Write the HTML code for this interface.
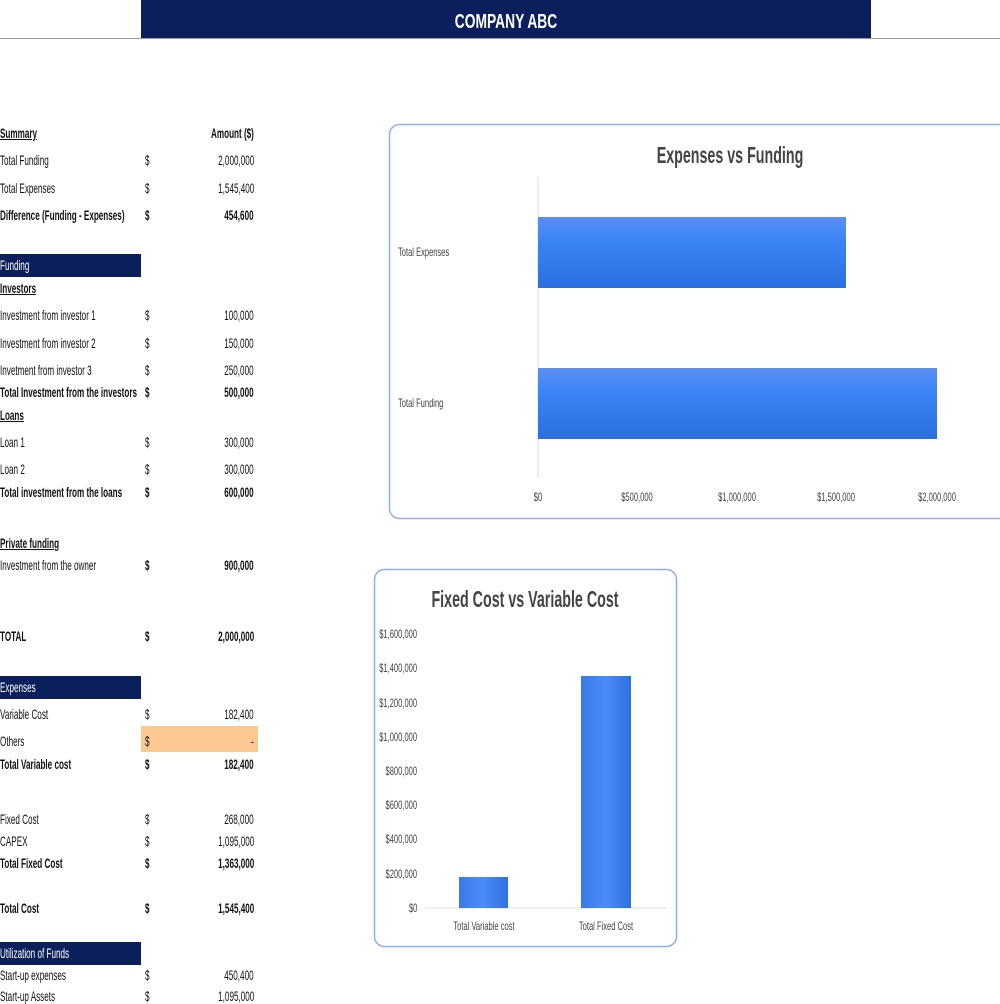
<!DOCTYPE html>
<html><head><meta charset="utf-8"><style>
body{margin:0;width:1000px;height:1000px;position:relative;background:#fff;overflow:hidden;font-family:"Liberation Sans",sans-serif;color:#111}
.a{position:absolute;height:16px;line-height:16px;font-size:14px;white-space:nowrap;transform:scaleX(0.58);transform-origin:left center}
.r{transform-origin:right center;text-align:right}
.c{font-size:12px;transform:scaleX(0.63)}
.b{font-weight:bold}
.u{text-decoration:underline}
.nav{position:absolute;left:0;width:141px;height:23px;background:#0b1f5c}
.w{color:#fff}
.g{color:#444}
</style></head><body>
<div style="position:absolute;left:141px;top:0;width:730px;height:38px;background:#0b1f5c"></div>
<div class="a b w" style="left:0;width:1012px;top:12px;font-size:20px;line-height:20px;height:20px;text-align:center;transform:scaleX(0.69);transform-origin:center">COMPANY ABC</div>
<div style="position:absolute;left:0;top:38px;width:1000px;height:1px;background:#9a9a9a"></div>

<div class="nav" style="top:254px"></div>
<div class="nav" style="top:676px"></div>
<div class="nav" style="top:942px"></div>
<div style="position:absolute;left:141px;top:726px;width:117px;height:26px;background:#fcc993"></div>

<div class="a b u" style="left:0;top:125px">Summary</div>
<div class="a b r" style="right:746px;top:125px">Amount ($)</div>

<div class="a" style="left:0;top:152px">Total Funding</div><div class="a" style="left:145px;top:152px">$</div><div class="a r" style="right:746px;top:152px">2,000,000</div>
<div class="a" style="left:0;top:180px">Total Expenses</div><div class="a" style="left:145px;top:180px">$</div><div class="a r" style="right:746px;top:180px">1,545,400</div>
<div class="a b" style="left:0;top:207px">Difference (Funding - Expenses)</div><div class="a b" style="left:145px;top:207px">$</div><div class="a b r" style="right:746px;top:207px">454,600</div>

<div class="a w" style="left:0;top:257px">Funding</div>
<div class="a b u" style="left:0;top:280px">Investors</div>
<div class="a" style="left:0;top:307px">Investment from investor 1</div><div class="a" style="left:145px;top:307px">$</div><div class="a r" style="right:746px;top:307px">100,000</div>
<div class="a" style="left:0;top:335px">Investment from investor 2</div><div class="a" style="left:145px;top:335px">$</div><div class="a r" style="right:746px;top:335px">150,000</div>
<div class="a" style="left:0;top:362px">Invetment from investor 3</div><div class="a" style="left:145px;top:362px">$</div><div class="a r" style="right:746px;top:362px">250,000</div>
<div class="a b" style="left:0;top:384px">Total Investment from the investors</div><div class="a b" style="left:145px;top:384px">$</div><div class="a b r" style="right:746px;top:384px">500,000</div>
<div class="a b u" style="left:0;top:407px">Loans</div>
<div class="a" style="left:0;top:434px">Loan 1</div><div class="a" style="left:145px;top:434px">$</div><div class="a r" style="right:746px;top:434px">300,000</div>
<div class="a" style="left:0;top:461px">Loan 2</div><div class="a" style="left:145px;top:461px">$</div><div class="a r" style="right:746px;top:461px">300,000</div>
<div class="a b" style="left:0;top:484px">Total investment from the loans</div><div class="a b" style="left:145px;top:484px">$</div><div class="a b r" style="right:746px;top:484px">600,000</div>

<div class="a b u" style="left:0;top:535px">Private funding</div>
<div class="a" style="left:0;top:557px">Investment from the owner</div><div class="a b" style="left:145px;top:557px">$</div><div class="a b r" style="right:746px;top:557px">900,000</div>

<div class="a b" style="left:0;top:628px">TOTAL</div><div class="a b" style="left:145px;top:628px">$</div><div class="a b r" style="right:746px;top:628px">2,000,000</div>

<div class="a w" style="left:0;top:679px">Expenses</div>
<div class="a" style="left:0;top:706px">Variable Cost</div><div class="a" style="left:145px;top:706px">$</div><div class="a r" style="right:746px;top:706px">182,400</div>
<div class="a" style="left:0;top:733px">Others</div><div class="a" style="left:145px;top:733px">$</div><div class="a r" style="right:746px;top:733px">-</div>
<div class="a b" style="left:0;top:756px">Total Variable cost</div><div class="a b" style="left:145px;top:756px">$</div><div class="a b r" style="right:746px;top:756px">182,400</div>

<div class="a" style="left:0;top:811px">Fixed Cost</div><div class="a" style="left:145px;top:811px">$</div><div class="a r" style="right:746px;top:811px">268,000</div>
<div class="a" style="left:0;top:833px">CAPEX</div><div class="a" style="left:145px;top:833px">$</div><div class="a r" style="right:746px;top:833px">1,095,000</div>
<div class="a b" style="left:0;top:855px">Total Fixed Cost</div><div class="a b" style="left:145px;top:855px">$</div><div class="a b r" style="right:746px;top:855px">1,363,000</div>

<div class="a b" style="left:0;top:900px">Total Cost</div><div class="a b" style="left:145px;top:900px">$</div><div class="a b r" style="right:746px;top:900px">1,545,400</div>

<div class="a w" style="left:0;top:945px">Utilization of Funds</div>
<div class="a" style="left:0;top:967px">Start-up expenses</div><div class="a" style="left:145px;top:967px">$</div><div class="a r" style="right:746px;top:967px">450,400</div>
<div class="a" style="left:0;top:988px">Start-up Assets</div><div class="a" style="left:145px;top:988px">$</div><div class="a r" style="right:746px;top:988px">1,095,000</div>

<svg style="position:absolute;left:0;top:0" width="1000" height="1000">
<defs>
<linearGradient id="gv" x1="0" y1="0" x2="0" y2="1"><stop offset="0" stop-color="#5b8ff0"/><stop offset="0.3" stop-color="#3d86f8"/><stop offset="1" stop-color="#2a6fe0"/></linearGradient>
<linearGradient id="gh" x1="0" y1="0" x2="1" y2="0"><stop offset="0" stop-color="#3a7ae8"/><stop offset="0.5" stop-color="#4a8cf8"/><stop offset="1" stop-color="#3070e0"/></linearGradient>
</defs>
<rect x="389.5" y="124.5" width="620" height="394" rx="10" fill="none" stroke="#8fb1e6" stroke-width="1.5"/>
<line x1="538" y1="177" x2="538" y2="478" stroke="#ddd"/>
<rect x="538" y="217" width="308" height="71" fill="url(#gv)"/>
<rect x="538" y="368" width="399" height="71" fill="url(#gv)"/>
<rect x="374.5" y="569.5" width="302" height="377" rx="10" fill="none" stroke="#8fb1e6" stroke-width="1.5"/>
<line x1="425" y1="908" x2="667" y2="908" stroke="#ddd"/>
<rect x="459" y="877" width="49" height="31" fill="url(#gh)"/>
<rect x="581" y="676" width="50" height="232" fill="url(#gh)"/>
</svg>

<div class="a b g" style="left:0;width:1460px;top:142px;font-size:23px;height:26px;line-height:26px;text-align:center;transform:scaleX(0.62);transform-origin:center">Expenses vs Funding</div>
<div class="a g c" style="left:398px;top:244px">Total Expenses</div>
<div class="a g c" style="left:398px;top:395px">Total Funding</div>
<div class="a g c" style="left:488px;width:100px;text-align:center;top:489px;transform-origin:center">$0</div>
<div class="a g c" style="left:587px;width:100px;text-align:center;top:489px;transform-origin:center">$500,000</div>
<div class="a g c" style="left:687px;width:100px;text-align:center;top:489px;transform-origin:center">$1,000,000</div>
<div class="a g c" style="left:786px;width:100px;text-align:center;top:489px;transform-origin:center">$1,500,000</div>
<div class="a g c" style="left:887px;width:100px;text-align:center;top:489px;transform-origin:center">$2,000,000</div>

<div class="a b g" style="left:0;width:1050px;top:586px;font-size:23px;height:26px;line-height:26px;text-align:center;transform:scaleX(0.62);transform-origin:center">Fixed Cost vs Variable Cost</div>
<div class="a g c r" style="right:583px;top:626px">$1,600,000</div>
<div class="a g c r" style="right:583px;top:660px">$1,400,000</div>
<div class="a g c r" style="right:583px;top:695px">$1,200,000</div>
<div class="a g c r" style="right:583px;top:729px">$1,000,000</div>
<div class="a g c r" style="right:583px;top:763px">$800,000</div>
<div class="a g c r" style="right:583px;top:797px">$600,000</div>
<div class="a g c r" style="right:583px;top:831px">$400,000</div>
<div class="a g c r" style="right:583px;top:866px">$200,000</div>
<div class="a g c r" style="right:583px;top:900px">$0</div>
<div class="a g c" style="left:424px;width:120px;text-align:center;top:918px;transform-origin:center">Total Variable cost</div>
<div class="a g c" style="left:546px;width:120px;text-align:center;top:918px;transform-origin:center">Total Fixed Cost</div>
</body></html>
